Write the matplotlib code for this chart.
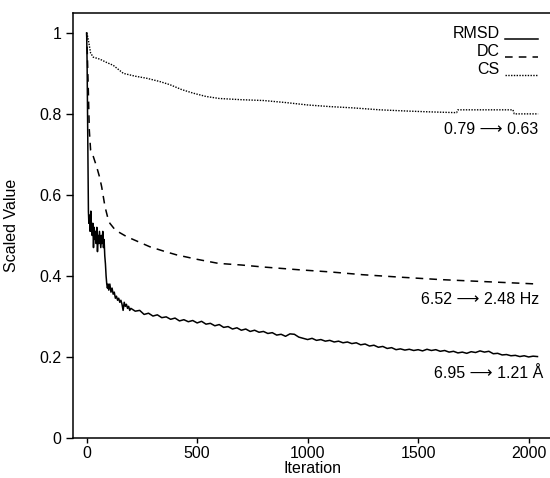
import matplotlib
matplotlib.use("Agg")
import matplotlib.pyplot as plt

plt.rcParams['font.family'] = ['Liberation Sans', 'DejaVu Sans']

# --- data ---
cs_iter = [0, 5, 10, 18, 30, 60, 90, 120, 166, 220, 271, 330, 377, 430, 483, 540,
           600, 700, 800, 900, 1000, 1100, 1200, 1327, 1450, 1550, 1674, 1680,
           1800, 1929, 1935, 2043]
cs_val = [1.0, 0.99, 0.975, 0.95, 0.94, 0.935, 0.927, 0.92, 0.90, 0.893, 0.888,
          0.88, 0.872, 0.86, 0.851, 0.843, 0.838, 0.835, 0.833, 0.828, 0.822,
          0.818, 0.815, 0.81, 0.807, 0.805, 0.803, 0.81, 0.81, 0.81, 0.80, 0.80]

dc_iter = [0, 3, 8, 12, 18, 30, 45, 58, 68, 83, 95, 105, 130, 181, 240, 286, 350,
           407, 500, 596, 700, 800, 966, 1100, 1250, 1418, 1600, 1800, 2043]
dc_val = [1.0, 0.95, 0.85, 0.76, 0.71, 0.695, 0.67, 0.645, 0.62, 0.571, 0.545,
          0.53, 0.513, 0.497, 0.483, 0.472, 0.461, 0.452, 0.441, 0.431, 0.427,
          0.422, 0.415, 0.41, 0.403, 0.397, 0.391, 0.386, 0.38]

rmsd_iter = [0, 2, 4, 6, 8, 10, 13, 16, 19, 22, 25, 28, 31, 34, 37, 40, 43, 46, 49,
             52, 55, 58, 61, 64, 67, 70, 73, 76, 79, 82, 85, 88, 91, 94, 97, 100,
             105, 110, 115, 120, 125, 130, 135, 140, 145, 150, 155, 160, 165, 170,
             175, 180, 185, 190, 195,
             200, 220, 240, 260, 280, 300, 320, 340, 360, 380, 400, 420, 440, 460,
             480, 500, 520, 540, 560, 580, 600, 620, 640, 660, 680, 700, 720, 740,
             760, 780, 800, 820, 840, 860, 880, 900, 920, 940, 960, 980, 1000, 1020,
             1040, 1060, 1080, 1100, 1120, 1140, 1160, 1180, 1200, 1220, 1240, 1260,
             1280, 1300, 1320, 1340, 1360, 1380, 1400, 1420, 1440, 1460, 1480, 1500,
             1520, 1540, 1560, 1580, 1600, 1620, 1640, 1660, 1680, 1700, 1720, 1740,
             1760, 1780, 1800, 1820, 1840, 1860, 1880, 1900, 1920, 1940, 1960, 1980,
             2000, 2020, 2040]
rmsd_val = [1.0, 0.93, 0.80, 0.66, 0.56, 0.53, 0.55, 0.51, 0.56, 0.52, 0.50, 0.53,
            0.47, 0.52, 0.49, 0.51, 0.48, 0.52, 0.46, 0.50, 0.48, 0.51, 0.49, 0.47,
            0.50, 0.48, 0.51, 0.47, 0.49, 0.45, 0.43, 0.40, 0.38, 0.37, 0.38, 0.365,
            0.38, 0.36, 0.37, 0.355, 0.36, 0.345, 0.35, 0.34, 0.345, 0.335, 0.34,
            0.33, 0.315, 0.335, 0.325, 0.33, 0.32, 0.325, 0.315,
            0.320, 0.313, 0.315, 0.305, 0.308, 0.301, 0.304, 0.297, 0.299, 0.293,
            0.296, 0.289, 0.292, 0.287, 0.290, 0.284, 0.288, 0.281, 0.283, 0.277,
            0.280, 0.273, 0.275, 0.269, 0.272, 0.266, 0.269, 0.263, 0.266, 0.261,
            0.263, 0.258, 0.260, 0.254, 0.256, 0.251, 0.257, 0.256, 0.249, 0.246,
            0.243, 0.246, 0.241, 0.243, 0.239, 0.241, 0.237, 0.239, 0.235, 0.237,
            0.233, 0.235, 0.230, 0.232, 0.227, 0.229, 0.224, 0.226, 0.221, 0.223,
            0.218, 0.220, 0.217, 0.219, 0.216, 0.218, 0.215, 0.219, 0.216, 0.218,
            0.214, 0.216, 0.212, 0.214, 0.210, 0.212, 0.209, 0.213, 0.211, 0.215,
            0.212, 0.214, 0.208, 0.209, 0.205, 0.206, 0.203, 0.204, 0.201, 0.203,
            0.200, 0.202, 0.201]

yticks = [0, 0.2, 0.4, 0.6, 0.8, 1.0]
ytick_labels = ['0', '0.2', '0.4', '0.6', '0.8', '1']
xticks = [0, 500, 1000, 1500, 2000]

legend_names = ['RMSD', 'DC', 'CS']
notes = ['0.79 \u27f6 0.63', '6.52 \u27f6 2.48 Hz', '6.95 \u27f6 1.21 \u00c5']

W, H = 550, 478
fig = plt.figure(figsize=(W / 100, H / 100), dpi=100)
ax = fig.add_axes([72.5 / W, 40 / H, 480 / W, 425 / H])

styles = [dict(ls='-', lw=1.1), dict(ls=(0, (5, 4)), lw=1.1), dict(ls=(0, (1, 1)), lw=1.0)]
ax.plot(rmsd_iter, rmsd_val, color='black', **styles[0])
ax.plot(dc_iter, dc_val, color='black', **styles[1])
ax.plot(cs_iter, cs_val, color='black', **styles[2])

ax.set_xlim(-64, 2108)
ax.set_ylim(0, 1.049)
ax.set_yticks(yticks)
ax.set_yticklabels(ytick_labels)
ax.set_xticks(xticks)
ax.spines['right'].set_visible(False)
for s in ax.spines.values():
    s.set_linewidth(1.1)
ax.tick_params(axis='y', length=5, width=1, pad=3, labelsize=11.5)
ax.tick_params(axis='x', length=3.6, width=1, pad=2, labelsize=11.5)

ax.set_xlabel('Iteration', fontsize=11.5, labelpad=0)
ax.set_ylabel('Scaled Value', fontsize=11.5)
ax.yaxis.set_label_coords((19 - 72.5) / 480, 0.5)

# legend drawn by hand: name, then a short line sample
def fx(px):
    return px / W

def fy(py):
    return 1 - py / H

leg_y = [33, 51, 69]
for name, y, st in zip(legend_names, leg_y, styles):
    fig.text(fx(500), fy(y), name, ha='right', va='center', fontsize=11.5)
    fig.add_artist(plt.Line2D([fx(505), fx(538)], [fy(y + 5.5)] * 2,
                              color='black', **st))

note_y = [130, 299, 373]
note_x = [538, 539, 543]
for txt, x, y in zip(notes, note_x, note_y):
    fig.text(fx(x), fy(y), txt, ha='right', va='center', fontsize=11.5,
             family=['Liberation Sans', 'DejaVu Sans'])

fig.savefig('out.png', dpi=100)
